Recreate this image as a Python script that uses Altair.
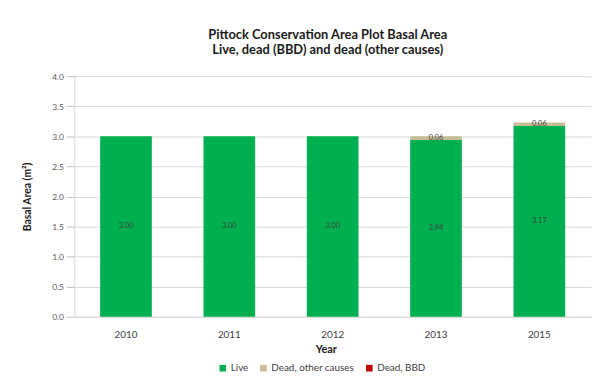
import altair as alt
import pandas as pd

years = ["2010", "2011", "2012", "2013", "2015"]
live = [3.00, 3.00, 3.00, 2.94, 3.17]
dead_other = [0.0, 0.0, 0.0, 0.06, 0.06]
dead_bbd = [0.0, 0.0, 0.0, 0.0, 0.0]
y_ticks = [0.0, 0.5, 1.0, 1.5, 2.0, 2.5, 3.0, 3.5, 4.0]

series_names = ["Live", "Dead, other causes", "Dead, BBD"]
series_colors = ["#00B050", "#C4BD97", "#C00000"]

rows = []
for i, y in enumerate(years):
    for k, (name, vals) in enumerate(zip(series_names, [live, dead_other, dead_bbd])):
        rows.append({"Year": y, "Series": name, "ord": k, "value": vals[i]})
df = pd.DataFrame(rows)

FONT = "Lato"

base = alt.Chart(df).transform_stack(
    stack="value", groupby=["Year"], as_=["y0", "y1"], sort=[{"field": "ord", "order": "ascending"}]
).transform_calculate(mid="(datum.y0 + datum.y1) / 2")

x_axis = alt.Axis(
    title="Year", labelAngle=0, ticks=False, labelFontSize=10, labelColor="#404040",
    labelFont=FONT, labelPadding=13, titleFont=FONT, titleFontSize=11, titleFontWeight="bold",
    titleColor="#1a1a1a", titlePadding=4, domainColor="#d9d9d9", grid=False, titleX=254,
)
y_axis = alt.Axis(
    title="Basal Area (m²)", values=y_ticks, format=".1f",
    labelOverlap=False,
    labelFontSize=8.5, labelColor="#595959", labelFont=FONT, tickColor="#bfbfbf",
    tickSize=8, labelPadding=3, domainColor="#d9d9d9", gridColor="#d9d9d9",
    titleFont=FONT, titleFontSize=10.5, titleFontWeight="bold", titleColor="#1a1a1a",
    titlePadding=19,
)
x_scale = alt.Scale(paddingInner=0.5, paddingOuter=0.25)
y_scale = alt.Scale(domain=[0, 4])

bars = base.mark_bar().encode(
    x=alt.X("Year:N", sort=years, scale=x_scale, axis=x_axis),
    y=alt.Y("y0:Q", scale=y_scale, axis=y_axis),
    y2="y1:Q",
    color=alt.Color(
        "Series:N",
        sort=series_names,
        scale=alt.Scale(domain=series_names, range=series_colors),
        legend=alt.Legend(
            title=None, orient="none", direction="horizontal", legendX=145, legendY=290,
            symbolType="square", symbolSize=45, symbolStrokeWidth=0, labelFontSize=10,
            labelFont=FONT, labelColor="#404040", columnPadding=10, labelOffset=3,
        ),
    ),
    order=alt.Order("ord:Q"),
)

labels = base.transform_filter("datum.value > 0").mark_text(
    fontSize=7.5, font=FONT, color="#404040", baseline="middle"
).encode(
    x=alt.X("Year:N", sort=years, scale=x_scale, axis=x_axis),
    y=alt.Y("mid:Q", scale=y_scale, axis=y_axis),
    text=alt.Text("value:Q", format=".2f"),
)

chart = alt.layer(bars, labels).properties(
    width=522,
    height=243,
    autosize=alt.AutoSizeParams(type="none"),
    padding={"left": 67, "top": 67, "right": 2, "bottom": 56},
    title=alt.TitleParams(
        ["Pittock Conservation Area Plot Basal Area", "Live, dead (BBD) and dead (other causes)"],
        font=FONT, fontSize=13, fontWeight="bold", color="#1a1a1a", lineHeight=16,
        anchor="middle", dx=-5, offset=15,
    ),
).configure_view(stroke=None)

chart.save("out.html", embed_options={"renderer": "svg", "actions": False})
